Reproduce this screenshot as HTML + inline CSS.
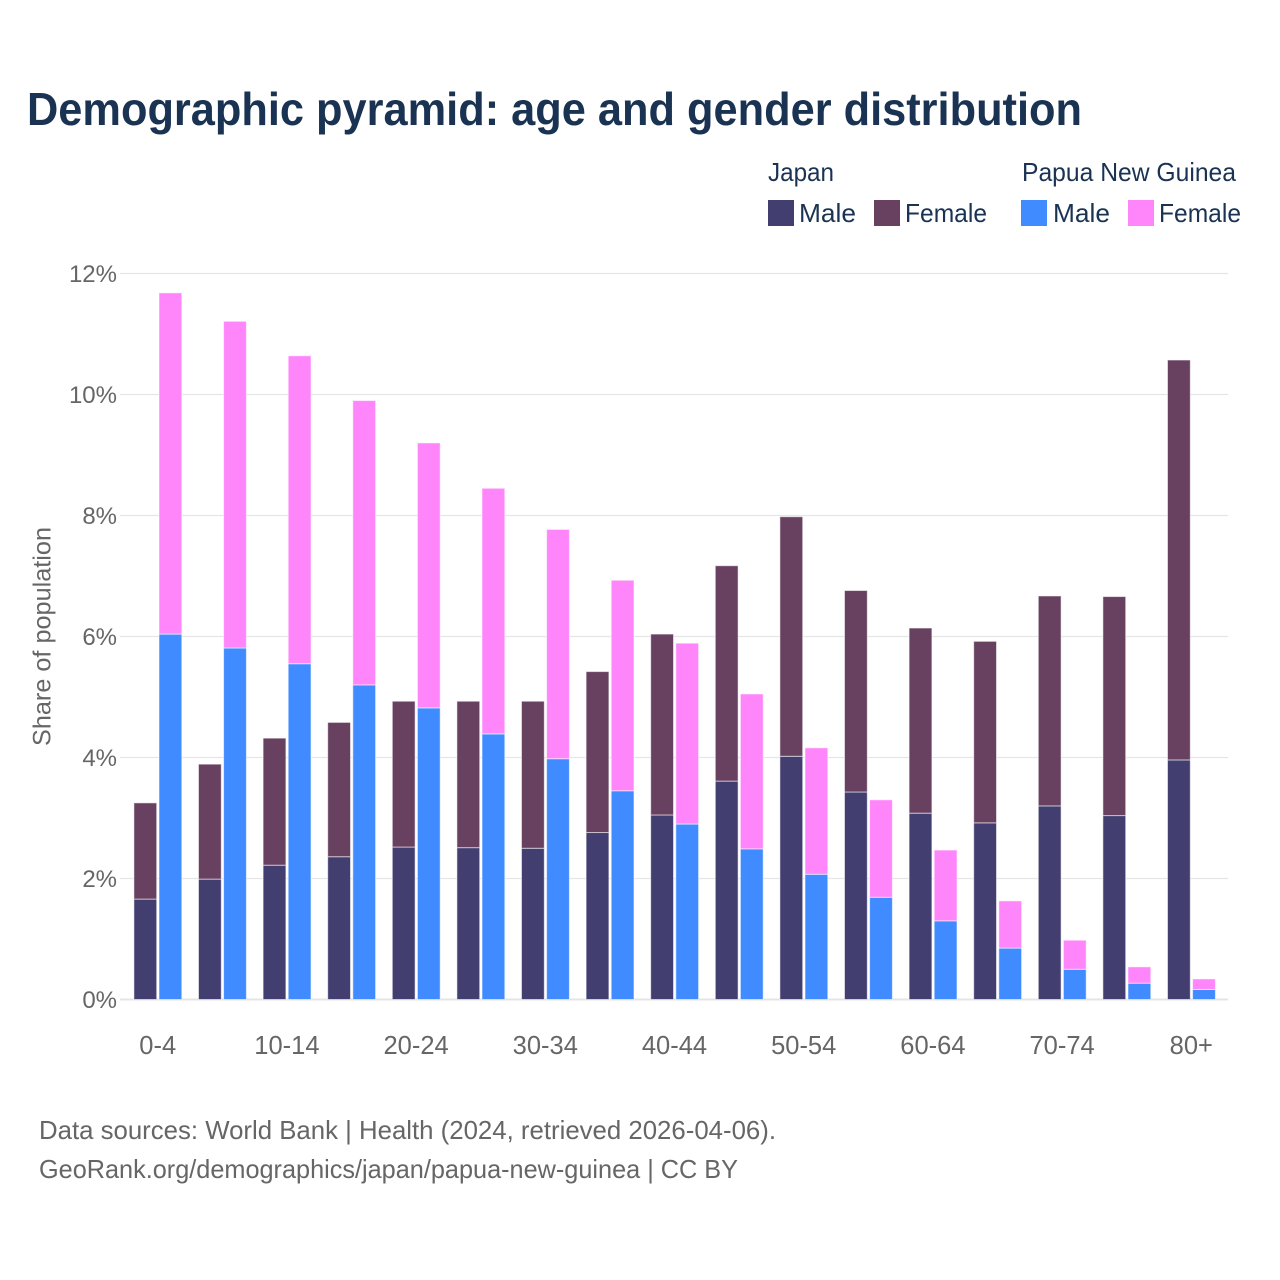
<!DOCTYPE html>
<html lang="en">
<head>
<meta charset="utf-8">
<title>Demographic pyramid: age and gender distribution</title>
<style>
  html, body { margin: 0; padding: 0; background: #fff; }
  svg { display: block; font-family: "Liberation Sans", "DejaVu Sans", sans-serif; }
  .title { font-size: 46px; font-weight: 700; fill: #1a3353; }
  .legend-text { font-size: 26px; fill: #1a3353; }
  .tick { font-size: 24px; fill: #666666; }
  .xtick { font-size: 25.5px; fill: #666666; }
  .axis-title { font-size: 25px; fill: #666666; }
  .foot { font-size: 26px; fill: #666666; }
</style>
</head>
<body>
<svg id="chart" xmlns="http://www.w3.org/2000/svg" width="1280" height="1280" viewBox="0 0 1280 1280">
  <rect x="0" y="0" width="1280" height="1280" fill="#ffffff"/>
  <text class="title" x="27" y="125" textLength="1055" lengthAdjust="spacingAndGlyphs">Demographic pyramid: age and gender distribution</text>

  <g>
    <text class="legend-text" x="768" y="181" textLength="66" lengthAdjust="spacingAndGlyphs">Japan</text>
    <text class="legend-text" x="1022" y="181" textLength="214" lengthAdjust="spacingAndGlyphs">Papua New Guinea</text>
    <g>
      <rect x="768" y="200" width="26" height="26" fill="#423e70"/>
      <text class="legend-text" x="799" y="222" textLength="57" lengthAdjust="spacingAndGlyphs">Male</text>
    </g>
    <g>
      <rect x="874" y="200" width="26" height="26" fill="#684161"/>
      <text class="legend-text" x="905" y="222" textLength="82" lengthAdjust="spacingAndGlyphs">Female</text>
    </g>
    <g>
      <rect x="1021" y="200" width="26" height="26" fill="#408bff"/>
      <text class="legend-text" x="1053" y="222" textLength="57" lengthAdjust="spacingAndGlyphs">Male</text>
    </g>
    <g>
      <rect x="1128" y="200" width="26" height="26" fill="#ff85fa"/>
      <text class="legend-text" x="1159" y="222" textLength="82" lengthAdjust="spacingAndGlyphs">Female</text>
    </g>
  </g>

  <g id="grid"></g>
  <g id="yticks"></g>
  <g id="xticks"></g>
  <g id="bars"></g>

  <text class="axis-title" transform="translate(50.5 746) rotate(-90)" x="0" y="0" textLength="219" lengthAdjust="spacingAndGlyphs">Share of population</text>

  <text class="foot" x="39" y="1139" textLength="737" lengthAdjust="spacingAndGlyphs">Data sources: World Bank | Health (2024, retrieved 2026-04-06).</text>
  <text class="foot" x="39" y="1178" textLength="699" lengthAdjust="spacingAndGlyphs">GeoRank.org/demographics/japan/papua-new-guinea | CC BY</text>
</svg>

<script>
const categories = ["0-4","5-9","10-14","15-19","20-24","25-29","30-34","35-39","40-44","45-49","50-54","55-59","60-64","65-69","70-74","75-79","80+"];
const japanMale = [1.66,1.99,2.22,2.36,2.52,2.51,2.50,2.76,3.05,3.61,4.02,3.43,3.08,2.92,3.20,3.04,3.96];
const japanFemale = [1.59,1.90,2.10,2.22,2.41,2.42,2.43,2.66,2.99,3.56,3.96,3.33,3.06,3.00,3.47,3.62,6.61];
const pngMale = [6.04,5.81,5.55,5.20,4.82,4.39,3.98,3.45,2.90,2.49,2.07,1.69,1.30,0.85,0.50,0.27,0.165];
const pngFemale = [5.64,5.40,5.09,4.70,4.38,4.06,3.79,3.48,2.99,2.56,2.09,1.61,1.17,0.78,0.48,0.27,0.175];
const yTickValues = [0,2,4,6,8,10,12];
const xTickLabels = ["0-4","10-14","20-24","30-34","40-44","50-54","60-64","70-74","80+"];

const NS = "http://www.w3.org/2000/svg";
const plotLeft = 120, plotRight = 1228;
const y0 = 999.5, pxPerUnit = 60.5;
const firstCenter = 158, step = 64.6, barW = 22.8;

function yScale(v) { return y0 - v * pxPerUnit; }
function xCenter(i) { return firstCenter + i * step; }
function make(tag, attrs) {
  const el = document.createElementNS(NS, tag);
  for (const k in attrs) el.setAttribute(k, attrs[k]);
  return el;
}

const grid = document.getElementById("grid");
const yticks = document.getElementById("yticks");
yTickValues.forEach(function (v) {
  const line = make("line", { x1: plotLeft, x2: plotRight, y1: yScale(v), y2: yScale(v), stroke: v === 0 ? "#e4e4e4" : "#e6e6e6", "stroke-width": v === 0 ? 2 : 1.2 });
  
  
  grid.appendChild(line);
  const t = make("text", { x: 117, y: yScale(v) + 8.5, "text-anchor": "end", class: "tick" });
  
  
  t.textContent = v + "%";
  yticks.appendChild(t);
});

const xticks = document.getElementById("xticks");
xTickLabels.forEach(function (label) {
  const i = categories.indexOf(label);
  const t = make("text", { x: xCenter(i) - 0.3, y: 1054, "text-anchor": "middle", class: "xtick" });
  
  
  t.textContent = label;
  xticks.appendChild(t);
});

const bars = document.getElementById("bars");
function addBar(x, base, value, fill) {
  const top = yScale(base + value);
  const r = make("rect", { x: x, y: top, width: barW, height: yScale(base) - top, fill: fill, stroke: "#ffffff", "stroke-opacity": 0.55, "stroke-width": 1 });
  
  
  bars.appendChild(r);
}
categories.forEach(function (c, i) {
  const cx = xCenter(i);
  const leftX = cx - 24.1, rightX = cx + 1;
  addBar(leftX, 0, japanMale[i], "#423e70");
  addBar(leftX, japanMale[i], japanFemale[i], "#684161");
  addBar(rightX, 0, pngMale[i], "#408bff");
  addBar(rightX, pngMale[i], pngFemale[i], "#ff85fa");
});
</script>
</body>
</html>
